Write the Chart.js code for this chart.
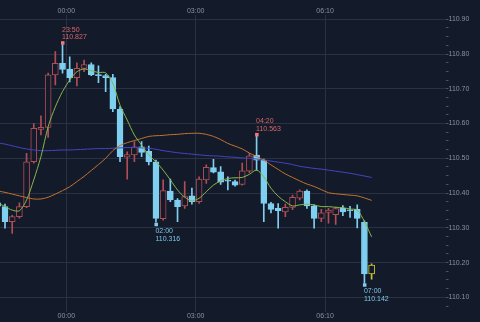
<!DOCTYPE html>
<html>
<head>
<meta charset="utf-8">
<script src="https://cdn.jsdelivr.net/npm/chart.js@4/dist/chart.umd.min.js"></script>
<style>
  html, body { margin: 0; padding: 0; background: #131a29; }
  canvas { display: block; }
</style>
</head>
<body>
<canvas id="chart" width="480" height="322"></canvas>
<script>
// 10 minute candles, first one is mostly off the left edge
const times = [
  '22:20', '22:30', '22:40', '22:50', '23:00', '23:10', '23:20', '23:30', '23:40', '23:50',
  '00:00', '00:10', '00:20', '00:30', '00:40', '00:50', '01:00', '01:10', '01:20', '01:30',
  '01:40', '01:50', '02:00', '02:10', '02:20', '02:30', '02:40', '02:50', '03:00', '03:10',
  '03:20', '03:30', '03:40', '03:50', '04:00', '04:10', '04:20', '04:30', '04:40', '04:50',
  '05:00', '05:20', '05:30', '05:40', '05:50', '06:00', '06:10', '06:20', '06:30', '06:40',
  '06:50', '07:00', '07:10'
];
const opens = [
  110.372, 110.361, 110.318, 110.332, 110.361, 110.490, 110.583, 110.589, 110.740, 110.773,
  110.757, 110.732, 110.759, 110.770, 110.740, 110.738, 110.732, 110.642, 110.503, 110.510,
  110.533, 110.520, 110.490, 110.326, 110.406, 110.380, 110.363, 110.392, 110.375, 110.438,
  110.473, 110.461, 110.436, 110.433, 110.425, 110.463, 110.509, 110.495, 110.370, 110.356,
  110.346, 110.359, 110.385, 110.406, 110.363, 110.327, 110.344, 110.338, 110.356, 110.351,
  110.353, 110.316, 110.167
];
const highs = [
  110.378, 110.368, 110.336, 110.372, 110.514, 110.600, 110.622, 110.745, 110.807, 110.827,
  110.792, 110.775, 110.783, 110.775, 110.766, 110.742, 110.742, 110.649, 110.519, 110.548,
  110.548, 110.535, 110.495, 110.438, 110.440, 110.384, 110.433, 110.414, 110.447, 110.481,
  110.497, 110.476, 110.447, 110.437, 110.486, 110.514, 110.563, 110.498, 110.373, 110.370,
  110.368, 110.394, 110.409, 110.409, 110.366, 110.353, 110.356, 110.360, 110.364, 110.362,
  110.366, 110.320, 110.196
];
const lows = [
  110.356, 110.299, 110.284, 110.328, 110.358, 110.486, 110.567, 110.560, 110.711, 110.745,
  110.720, 110.708, 110.749, 110.738, 110.718, 110.692, 110.634, 110.490, 110.440, 110.490,
  110.505, 110.481, 110.316, 110.322, 110.375, 110.318, 110.356, 110.368, 110.370, 110.428,
  110.458, 110.425, 110.409, 110.420, 110.423, 110.459, 110.466, 110.318, 110.343, 110.299,
  110.332, 110.352, 110.380, 110.356, 110.299, 110.318, 110.313, 110.310, 110.335, 110.330,
  110.300, 110.142, 110.152
];
const closes = [
  110.362, 110.318, 110.332, 110.361, 110.490, 110.586, 110.589, 110.740, 110.773, 110.756,
  110.732, 110.759, 110.770, 110.740, 110.738, 110.732, 110.642, 110.505, 110.511, 110.533,
  110.517, 110.490, 110.327, 110.407, 110.380, 110.361, 110.390, 110.375, 110.440, 110.474,
  110.460, 110.431, 110.434, 110.423, 110.464, 110.507, 110.495, 110.370, 110.353, 110.349,
  110.359, 110.388, 110.406, 110.363, 110.327, 110.343, 110.351, 110.355, 110.346, 110.349,
  110.327, 110.167, 110.193
];

// moving averages
const maFast = [
  110.372, 110.361, 110.351, 110.349, 110.380, 110.438, 110.505, 110.591, 110.648, 110.692,
  110.725, 110.749, 110.757, 110.752, 110.747, 110.746, 110.716, 110.653, 110.610, 110.567,
  110.538, 110.510, 110.490, 110.466, 110.438, 110.409, 110.388, 110.378, 110.385, 110.404,
  110.423, 110.435, 110.442, 110.444, 110.445, 110.454, 110.466, 110.447, 110.414, 110.391,
  110.375, 110.363, 110.366, 110.368, 110.366, 110.361, 110.361, 110.359, 110.358, 110.354,
  110.351, 110.318, 110.274
];
const maMid = [
  110.406, 110.402, 110.397, 110.392, 110.387, 110.383, 110.383, 110.388, 110.397, 110.407,
  110.418, 110.433, 110.448, 110.465, 110.482, 110.500, 110.522, 110.537, 110.545, 110.551,
  110.557, 110.563, 110.565, 110.566, 110.568, 110.569, 110.571, 110.572, 110.572, 110.569,
  110.563, 110.554, 110.543, 110.535, 110.527, 110.515, 110.505, 110.495, 110.481, 110.468,
  110.455, 110.445, 110.435, 110.426, 110.419, 110.410, 110.401, 110.398, 110.396, 110.394,
  110.392, 110.386, 110.379
];
const maSlow = [
  110.544, 110.541, 110.536, 110.531, 110.527, 110.524, 110.522, 110.522, 110.523, 110.524,
  110.524, 110.525, 110.526, 110.527, 110.528, 110.528, 110.529, 110.530, 110.531, 110.531,
  110.530, 110.529, 110.526, 110.522, 110.519, 110.516, 110.514, 110.512, 110.510, 110.508,
  110.507, 110.506, 110.504, 110.503, 110.501, 110.500, 110.498, 110.495, 110.492, 110.489,
  110.486, 110.482, 110.477, 110.474, 110.471, 110.469, 110.466, 110.463, 110.460, 110.457,
  110.453, 110.449, 110.445
];

const xTickLabels = ['00:00', '03:00', '06:10'];
const yTickLabels = ['110.10', '110.20', '110.30', '110.40', '110.50', '110.60', '110.70', '110.80', '110.90'];

// labelled extremes: [time, price]
const highMarks = [['23:50', 110.827], ['04:20', 110.563]];
const lowMarks = [['02:00', 110.316], ['07:00', 110.142]];

const BG = '#131a29';
const GRID = '#2a3142';
const TEXT = '#8a909c';
const UP = '#b04e58';
const DOWN = '#7fcff0';
const LAST = '#c9c530';

const lastIdx = times.length - 1;
const candleColor = (i) => {
  if (i === lastIdx) return LAST;
  return closes[i] >= opens[i] ? UP : DOWN;
};
const isUp = (i) => closes[i] >= opens[i];

const xTickValues = xTickLabels.map((t) => times.indexOf(t) - 0.47);

const xTicks = (scale) => {
  scale.ticks = xTickValues.map((v) => ({ value: v }));
};
const xLabel = (value) => {
  const k = xTickValues.findIndex((v) => Math.abs(v - value) < 1e-6);
  return k >= 0 ? xTickLabels[k] : '';
};

const isMajorY = (v) => yTickLabels.includes(v.toFixed(2)) && Math.abs(v * 10 - Math.round(v * 10)) < 1e-6;

const X_MIN = 0.3036;
const X_MAX = 62.28;
const Y_MIN = 110.0586;
const Y_MAX = 110.9124;

const markPlugin = {
  id: 'marks',
  afterDatasetsDraw(chart) {
    const { ctx, scales } = chart;
    ctx.save();
    ctx.font = "7px 'Liberation Sans', Arial, sans-serif";
    ctx.textBaseline = 'middle';
    ctx.textAlign = 'left';
    highMarks.forEach(([t, p]) => {
      const x = scales.x.getPixelForValue(times.indexOf(t));
      const y = scales.y.getPixelForValue(p) - 2;
      ctx.fillStyle = '#f07a7a';
      ctx.fillRect(x - 1.5, y - 1.5, 3.5, 3.5);
      ctx.fillStyle = '#d9666c';
      ctx.fillText(t, x - 0.5, y - 13);
      ctx.fillText(p.toFixed(3), x - 0.5, y - 5.5);
    });
    lowMarks.forEach(([t, p]) => {
      const x = scales.x.getPixelForValue(times.indexOf(t));
      const y = scales.y.getPixelForValue(p) + 2;
      ctx.fillStyle = DOWN;
      ctx.fillRect(x - 1.5, y - 1.5, 3.5, 3.5);
      ctx.fillStyle = '#7cc6e6';
      ctx.fillText(t, x - 0.5, y + 6.5);
      ctx.fillText(p.toFixed(3), x - 0.5, y + 14.5);
    });
    ctx.restore();
  }
};

Chart.defaults.font.family = "'Liberation Sans', Arial, sans-serif";
Chart.defaults.font.size = 7;

const lineSet = (data, color) => ({
  type: 'line',
  data: data.map((v, i) => ({ x: i, y: v })),
  borderColor: color,
  borderWidth: 1,
  pointRadius: 0,
  tension: 0.3,
  xAxisID: 'x',
  yAxisID: 'y'
});

new Chart(document.getElementById('chart'), {
  type: 'bar',
  data: {
    datasets: [
      lineSet(maFast, '#86b84c'),
      lineSet(maMid, '#c0732f'),
      lineSet(maSlow, '#4545c0'),
      {
        // candle bodies
        data: times.map((_, i) => ({ x: i, y: [opens[i], closes[i]] })),
        backgroundColor: times.map((_, i) => (isUp(i) || i === lastIdx ? BG : DOWN)),
        borderColor: times.map((_, i) => candleColor(i)),
        borderWidth: 1,
        borderSkipped: false,
        barThickness: 6,
        minBarLength: 1,
        grouped: false
      },
      {
        // wicks
        data: times.map((_, i) => ({ x: i, y: [lows[i], highs[i]] })),
        backgroundColor: times.map((_, i) => candleColor(i)),
        borderWidth: 0,
        barThickness: 1,
        grouped: false
      }
    ]
  },
  options: {
    responsive: false,
    animation: false,
    layout: { padding: { top: 6.6, right: 10.6, bottom: 1.9, left: 0 } },
    plugins: { legend: { display: false }, tooltip: { enabled: false } },
    scales: {
      x: {
        type: 'linear',
        position: 'bottom',
        offset: false,
        min: X_MIN,
        max: X_MAX,
        afterBuildTicks: xTicks,
        border: { display: false },
        grid: { color: GRID, drawTicks: false, offset: false },
        ticks: { color: TEXT, padding: 0, autoSkip: false, maxRotation: 0, callback: xLabel }
      },
      x2: {
        type: 'linear',
        position: 'top',
        offset: false,
        min: X_MIN,
        max: X_MAX,
        afterBuildTicks: xTicks,
        border: { display: false },
        grid: { display: false, drawTicks: false },
        ticks: { color: TEXT, padding: 0, autoSkip: false, maxRotation: 0, callback: xLabel }
      },
      y: {
        position: 'right',
        min: Y_MIN,
        max: Y_MAX,
        afterBuildTicks: (scale) => {
          const ticks = [];
          const first = parseFloat(yTickLabels[0]) - 0.025;
          for (let v = first; v <= Y_MAX; v += 0.025) ticks.push({ value: Math.round(v * 1000) / 1000 });
          scale.ticks = ticks;
        },
        border: { display: false },
        grid: {
          color: (c) => (c.tick && isMajorY(c.tick.value) ? GRID : 'rgba(0,0,0,0)'),
          tickColor: '#4b5263',
          tickLength: 3
        },
        ticks: {
          color: TEXT,
          padding: 0,
          autoSkip: false,
          callback: (v) => (isMajorY(v) ? v.toFixed(2) : '')
        }
      }
    }
  },
  plugins: [markPlugin]
});
</script>
</body>
</html>
